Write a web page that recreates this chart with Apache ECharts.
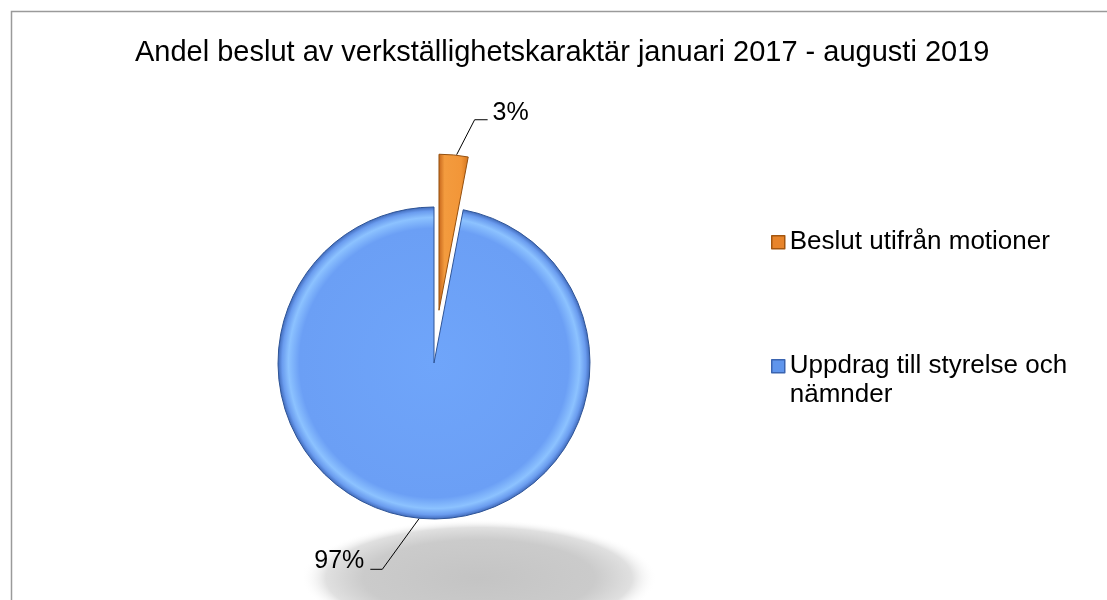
<!DOCTYPE html>
<html>
<head>
<meta charset="utf-8">
<script src="https://cdn.jsdelivr.net/npm/echarts@6/dist/echarts.min.js"></script>
<style>
html, body { margin: 0; padding: 0; background: #fff; }
#chart { width: 1107px; height: 600px; }
</style>
</head>
<body>
<div id="chart"></div>
<script>
// ---- data ----
const TITLE = 'Andel beslut av verkställighetskaraktär januari 2017 - augusti 2019';
const categories = ['Beslut utifrån motioner', 'Uppdrag till styrelse och nämnder'];
const values = [3, 97];

// ---- styles ----
const FONT = '"Liberation Sans", Arial, Helvetica, sans-serif';
const CENTER = [434, 363];
const RADIUS = 156;
const EXPLODE = 53;

const sliceStyles = [
  {
    color: { type: 'linear', x: 0, y: 0, x2: 1, y2: 0, colorStops: [
      { offset: 0, color: '#c4641a' }, { offset: 0.2, color: '#f39b3e' },
      { offset: 0.75, color: '#f29638' }, { offset: 1, color: '#d2741f' } ] },
    borderColor: '#95500f', borderWidth: 1
  },
  {
    color: { type: 'radial', x: 0.5, y: 0.5, r: 0.5, colorStops: [
      { offset: 0, color: '#6fa5fa' }, { offset: 0.86, color: '#6b9ff5' },
      { offset: 0.93, color: '#8cc2ff' }, { offset: 0.97, color: '#6a9cef' },
      { offset: 1, color: '#3c65b5' } ] },
    borderColor: '#2f5597', borderWidth: 1
  }
];
const legendStyles = [
  { color: '#e8842a', borderColor: '#a4560f', borderWidth: 1.5 },
  { color: '#5f95ec', borderColor: '#3a64b0', borderWidth: 1.5 }
];

// wrap long legend names; a leading blank line keeps the marker beside the first line
function wrapName(name) {
  const max = 26;
  if (name.length <= max) return name;
  const cut = name.lastIndexOf(' ', max);
  return '\n' + name.slice(0, cut) + '\n' + name.slice(cut + 1);
}

const chart = echarts.init(document.getElementById('chart'), null, { renderer: 'canvas' });

const option = {
  backgroundColor: '#ffffff',
  animation: false,
  title: {
    text: TITLE,
    left: 130,
    top: 33,
    textStyle: { fontFamily: FONT, fontSize: 29, fontWeight: 'normal', color: '#000' }
  },
  legend: {
    orient: 'vertical',
    left: 766,
    top: 223,
    itemGap: 67,
    itemWidth: 13,
    itemHeight: 13,
    icon: 'rect',
    selectedMode: false,
    formatter: wrapName,
    data: categories.map((n, i) => ({ name: n, itemStyle: legendStyles[i] })),
    textStyle: { fontFamily: FONT, fontSize: 26, color: '#000', lineHeight: 28.5 }
  },
  graphic: [
    {
      type: 'rect', silent: true, z: -10,
      shape: { x: 11.5, y: 11.5, width: 1200, height: 700 },
      style: { fill: 'none', stroke: '#9a9a9a', lineWidth: 1.5 }
    },
    {
      type: 'circle', silent: true, z: -5,
      x: CENTER[0] + 45, y: CENTER[1] + 215, scaleY: 0.33,
      shape: { cx: 0, cy: 0, r: 178 },
      style: { fill: { type: 'radial', x: 0.5, y: 0.5, r: 0.5, colorStops: [
        { offset: 0, color: '#c4c4c4' }, { offset: 0.65, color: '#cbcbcb' },
        { offset: 0.86, color: '#e0e0e0' }, { offset: 1, color: 'rgba(255,255,255,0)' } ] } }
    }
  ],
  series: [{
    type: 'pie',
    center: CENTER,
    radius: RADIUS,
    startAngle: 90,
    clockwise: true,
    selectedMode: 'single',
    selectedOffset: EXPLODE,
    avoidLabelOverlap: false,
    emphasis: { disabled: true },
    data: categories.map((n, i) => ({
      name: n, value: values[i], selected: i === 0, itemStyle: sliceStyles[i],
      labelLine: i === 0 ? { length: 42, length2: 30 } : undefined
    })),
    label: {
      show: true, position: 'outside',
      formatter: p => Math.round(p.percent) + '%',
      fontFamily: FONT, fontSize: 25, color: '#000'
    },
    labelLine: { show: true, smooth: false, length: 20, length2: 10, lineStyle: { color: '#000', width: 1 } },
    labelLayout: function (p) {
      const r = p.rect;
      if (p.dataIndex === 0) {
        // exploded slice: the library keeps the label; only shape the leader line
        const a = [r.x + r.width * 0.6, r.y + 1];
        return { labelLinePoints: [a, [a[0] + 18, a[1] - 35], [a[0] + 31, a[1] - 35]] };
      }
      const a = (p.labelLinePoints && p.labelLinePoints[0]) || [r.x + r.width / 2, r.y + r.height];
      return {
        x: a[0] - 55, y: a[1] + 43, align: 'right', verticalAlign: 'middle',
        labelLinePoints: [a, [a[0] - 37, a[1] + 51], [a[0] - 49, a[1] + 51]]
      };
    }
  }]
};

chart.setOption(option);
</script>
</body>
</html>
